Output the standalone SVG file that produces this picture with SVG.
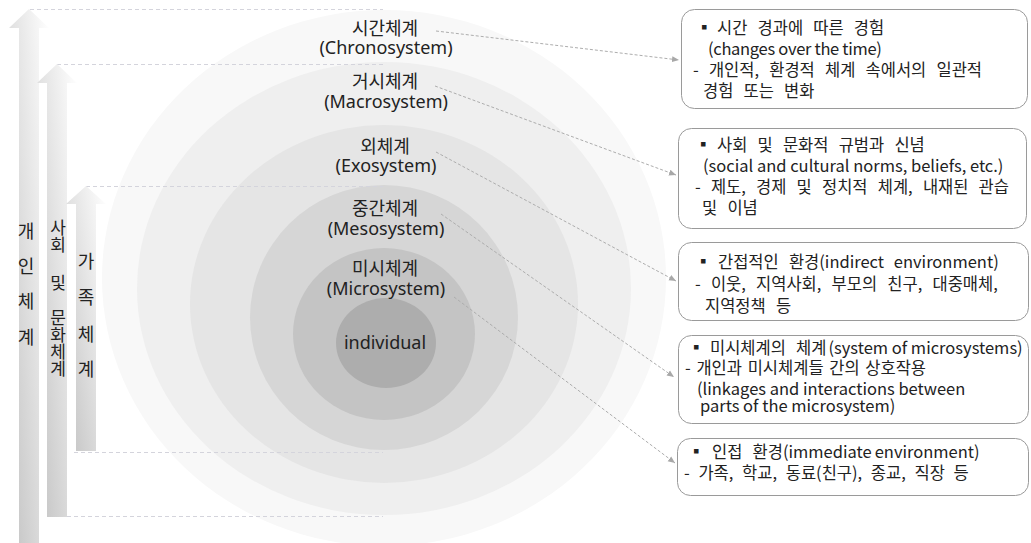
<svg xmlns="http://www.w3.org/2000/svg" width="1031" height="543" viewBox="0 0 1031 543">
<defs>
<linearGradient id="ag" x1="1" y1="0" x2="0" y2="1">
<stop offset="0" stop-color="#ffffff"/>
<stop offset="1" stop-color="#c2c2c2"/>
</linearGradient>
<marker id="ah" markerWidth="8" markerHeight="8" refX="7" refY="4" orient="auto" markerUnits="userSpaceOnUse">
<path d="M0,1 L7,4 L0,7 Z" fill="#a8a8a8"/>
</marker>
</defs>
<style>
.lbl{font-family:"Noto Sans","Noto Sans CJK KR",sans-serif;font-size:18px;fill:#222;text-anchor:middle}
.vt{font-family:"Noto Sans CJK KR",sans-serif;font-size:18px;fill:#222;text-anchor:middle}
.vv{font-family:"Noto Sans CJK KR",sans-serif;font-size:17px;fill:#222;writing-mode:vertical-rl;text-orientation:upright}
.bx{fill:#fff;stroke:#9a9a9a;stroke-width:1}
.bt{font-family:"Noto Sans CJK KR",sans-serif;font-size:16.5px;fill:#222}
.kr{word-spacing:6.5px}
.guide{stroke:#d4d4dc;stroke-width:1;stroke-dasharray:4 3;fill:none}
.con{stroke:#adadad;stroke-width:1;stroke-dasharray:3 2;fill:none;marker-end:url(#ah)}
</style>
<rect width="1031" height="543" fill="#ffffff"/>

<g id="rings">
<ellipse id="chrono" cx="384" cy="278" rx="282" ry="268" fill="#f8f8f8"/>
<ellipse id="macro" cx="384" cy="288.5" rx="247" ry="226.5" fill="#efefef"/>
<ellipse id="exo" cx="384" cy="304" rx="194" ry="179" fill="#e5e5e5"/>
<ellipse id="meso" cx="384" cy="317.5" rx="134" ry="132.5" fill="#d6d6d6"/>
<ellipse id="micro" cx="384" cy="334" rx="91" ry="86" fill="#c4c4c4"/>
<ellipse id="indiv" cx="386" cy="343" rx="50" ry="45" fill="#adadad"/>
</g>

<g id="guides">
<line class="guide" x1="30" y1="9.5" x2="383" y2="9.5"/>
<line class="guide" x1="57" y1="64.5" x2="383" y2="64.5"/>
<line class="guide" x1="86" y1="186.5" x2="383" y2="186.5"/>
<line class="guide" x1="74" y1="452.5" x2="383" y2="452.5"/>
<line class="guide" x1="67" y1="516.5" x2="383" y2="516.5"/>
</g>

<g id="ring-labels">
<g id="lbl-chrono"><text class="lbl"><tspan x="385" y="35">시간체계</tspan><tspan x="386" y="54">(Chronosystem)</tspan></text></g>
<g id="lbl-macro"><text class="lbl"><tspan x="385" y="88">거시체계</tspan><tspan x="386" y="108">(Macrosystem)</tspan></text></g>
<g id="lbl-exo"><text class="lbl"><tspan x="385" y="153">외체계</tspan><tspan x="386" y="172">(Exosystem)</tspan></text></g>
<g id="lbl-meso"><text class="lbl"><tspan x="385" y="215">중간체계</tspan><tspan x="386" y="235">(Mesosystem)</tspan></text></g>
<g id="lbl-micro"><text class="lbl"><tspan x="385" y="275">미시체계</tspan><tspan x="386" y="295">(Microsystem)</tspan></text></g>
<g id="lbl-indiv"><text class="lbl" x="385" y="349">individual</text></g>
</g>

<g id="arrow-individual">
<path d="M19,543 L19,28 L9,28 L29,9 L49,28 L39,28 L39,543 Z" fill="url(#ag)"/>
<text class="vt" x="26" y="238">개</text>
<text class="vt" x="26" y="273">인</text>
<text class="vt" x="26" y="308">체</text>
<text class="vt" x="26" y="344">계</text>
</g>
<g id="arrow-social">
<path d="M47,517 L47,83 L37,83 L57,64 L77,83 L67,83 L67,517 Z" fill="url(#ag)"/>
<text class="vv" x="58" y="219">사회</text>
<text class="vv" x="58" y="274">및</text>
<text class="vv" x="58" y="309">문화체계</text>
</g>
<g id="arrow-family">
<path d="M76,451 L76,204 L66,204 L86,186 L106,204 L96,204 L96,451 Z" fill="url(#ag)"/>
<text class="vt" x="86" y="268">가</text>
<text class="vt" x="86" y="304">족</text>
<text class="vt" x="86" y="341">체</text>
<text class="vt" x="86" y="376">계</text>
</g>

<g id="connectors">
<line class="con" x1="436" y1="31" x2="679" y2="60"/>
<line class="con" x1="435" y1="86" x2="676" y2="175"/>
<line class="con" x1="436" y1="152" x2="676" y2="281"/>
<line class="con" x1="441" y1="214" x2="674" y2="377"/>
<line class="con" x1="454" y1="297" x2="675" y2="463"/>
</g>

<g id="box-chrono">
<rect class="bx" x="681.5" y="9.5" width="346" height="99" rx="13"/>
<text class="bt"><tspan x="696" y="34">▪</tspan><tspan class="kr" x="717" y="34">시간 경과에 따른 경험</tspan><tspan x="708" y="55" letter-spacing="-0.3">(changes over the time)</tspan><tspan class="kr" x="693" y="76">- 개인적, 환경적 체계 속에서의 일관적</tspan><tspan class="kr" x="703" y="97">경험 또는 변화</tspan></text>
</g>
<g id="box-macro">
<rect class="bx" x="678.5" y="128.5" width="348" height="100" rx="13"/>
<text class="bt"><tspan x="695" y="151">▪</tspan><tspan class="kr" x="717" y="151">사회 및 문화적 규범과 신념</tspan><tspan x="703" y="172">(social and cultural norms, beliefs, etc.)</tspan><tspan class="kr" x="695" y="193">- 제도, 경제 및 정치적 체계, 내재된 관습</tspan><tspan class="kr" x="702" y="214">및 이념</tspan></text>
</g>
<g id="box-exo">
<rect class="bx" x="678.5" y="242.5" width="350" height="78" rx="13"/>
<text class="bt"><tspan x="695" y="268">▪</tspan><tspan class="kr" x="718" y="268">간접적인 환경</tspan><tspan>(indirect</tspan><tspan dx="10">environment)</tspan><tspan class="kr" x="695" y="290">- 이웃, 지역사회, 부모의 친구, 대중매체,</tspan><tspan class="kr" x="705" y="312">지역정책 등</tspan></text>
</g>
<g id="box-meso">
<rect class="bx" x="678.5" y="335.5" width="350" height="88" rx="13"/>
<text class="bt"><tspan x="688" y="354">▪</tspan><tspan class="kr" x="710" y="354">미시체계의 체계</tspan><tspan dx="2">(system of microsystems)</tspan><tspan x="685" y="374" word-spacing="2">- 개인과 미시체계들 간의 상호작용</tspan><tspan x="697" y="395">(linkages and interactions between</tspan><tspan x="700" y="412">parts of the microsystem)</tspan></text>
</g>
<g id="box-micro">
<rect class="bx" x="677.5" y="438.5" width="351" height="57" rx="13"/>
<text class="bt"><tspan x="688" y="458">▪</tspan><tspan class="kr" x="712" y="458">인접 환경</tspan><tspan>(immediate</tspan><tspan dx="3">environment)</tspan><tspan x="684" y="479" word-spacing="5">- 가족, 학교, 동료(친구), 종교, 직장 등</tspan></text>
</g>
</svg>
